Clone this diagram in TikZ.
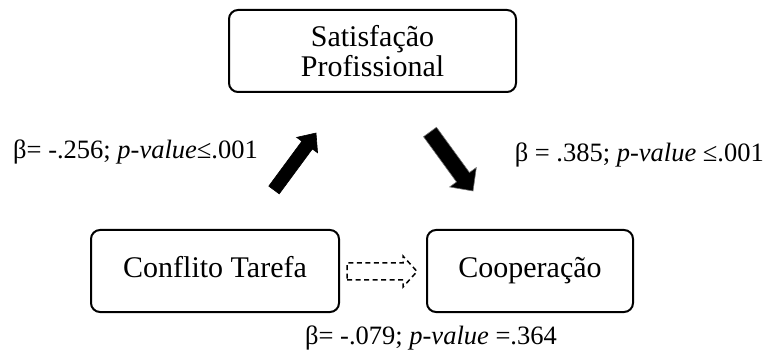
\documentclass[tikz,border=0pt]{standalone}
\usepackage{fontspec}
\setmainfont{Liberation Serif}
\begin{document}
\begin{tikzpicture}[x=1pt,y=1pt,
  box/.style={draw=black, line width=2pt, rounded corners=9pt, inner sep=0pt, font=\fontsize{30}{30}\selectfont, align=center},
  oneline/.style={text height=20pt, text depth=6pt},
  lbl/.style={inner sep=0pt, font=\fontsize{26.5}{28}\selectfont},
  blockarrow/.style={fill=black, draw=black, line width=0.6pt, line join=miter},
  dasharrow/.style={draw=black, dashed, dash pattern=on 5pt off 3.5pt, line width=1.5pt, fill=white}]
\useasboundingbox (0,0) rectangle (765,356);
\node[box, minimum width=287pt, minimum height=82pt] (sat) at (372.5,305) {Satisfação\\Profissional};
\node[box, oneline, minimum width=248pt, minimum height=82pt] (conf) at (215,85) {Conflito Tarefa};
\node[box, oneline, minimum width=206pt, minimum height=82pt] (coop) at (530,85) {Cooperação};
% up arrow
\begin{scope}[shift={(274,166)}, rotate=53.6]
\coordinate (ua) at (0,0);
\fill[blockarrow] (0,-6.5) -- (55.8,-6.5) -- (55.8,-13) -- (70.8,0) -- (55.8,13) -- (55.8,6.5) -- (0,6.5) -- cycle;
\end{scope}
% down arrow
\begin{scope}[shift={(430,224)}, rotate=-53.9]
\coordinate (da) at (0,0);
\filldraw[blockarrow, draw=black!55] (0,-8) -- (56,-8) -- (56,-16.5) -- (73,0) -- (56,16.5) -- (56,8) -- (0,8) -- cycle;
\end{scope}
% dashed arrow
\coordinate (dt) at (347,84.5);
\draw[dasharrow] (347,76) -- (403,76) -- (403,69) -- (417,84.5) -- (403,100) -- (403,93) -- (347,93) -- cycle;
\node[lbl, anchor=west] (l1) at (13,204) {β= -.256; \textit{p-value}≤.001};
\node[lbl, anchor=east] (l2) at (764,201) {β = .385; \textit{p-value} ≤.001};
\node[lbl] (l3) at (431,18) {β= -.079; \textit{p-value} =.364};
\end{tikzpicture}
\end{document}
